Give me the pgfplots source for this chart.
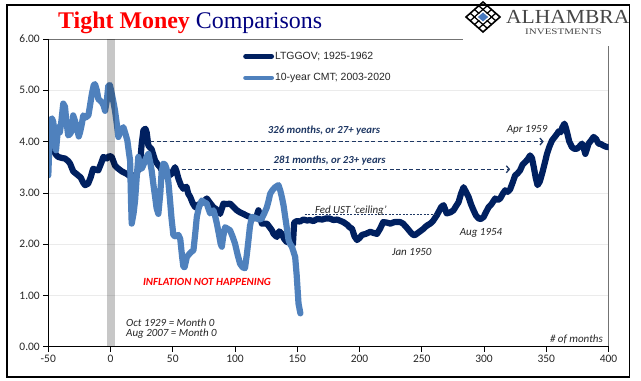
\documentclass[border=0pt]{standalone}
\usepackage{fontspec}
\setmainfont{Carlito}
\newfontfamily\arialfont{Liberation Sans}
\newfontfamily\timesfont{Liberation Serif}
\usepackage{pgfplots}
\pgfplotsset{compat=1.18}
\usetikzlibrary{arrows.meta}
\definecolor{darkser}{RGB}{0,32,96}
\definecolor{lightser}{RGB}{79,129,189}
\definecolor{titlenavy}{RGB}{0,0,128}
\definecolor{logogray}{RGB}{70,70,70}
\definecolor{logoblue}{RGB}{70,120,190}
\definecolor{annot}{RGB}{31,56,100}

\begin{document}
\begin{tikzpicture}
\useasboundingbox (0bp,0bp) rectangle (641bp,381bp);
\fill[white] (0bp,0bp) rectangle (641bp,381bp);
\begin{axis}[
  name=ax,
  at={(48.3bp,34.3bp)}, anchor=south west, scale only axis,
  width=560.2bp, height=307.7bp,
  xmin=-50, xmax=400, ymin=0, ymax=6,
  xtick={-50,0,50,100,150,200,250,300,350,400},
  ytick={0,1,2,3,4,5,6},
  tick pos=left, tick align=outside, major tick length=5bp,
  tick style={black, line width=0.6bp},
  axis line style={draw=black!55, line width=0.8bp},
  ymajorgrids, major grid style={draw=black!8, line width=0.6bp},
  yticklabel style={/pgf/number format/.cd, fixed, fixed zerofill, precision=2},
  /pgf/number format/assume math mode=true,
  ticklabel style={font=\fontsize{11.5}{13}\selectfont, text=black!85},
  legend style={at={(0.3476,0.9643)}, anchor=north west, draw=none, fill=none,
    inner sep=0pt, row sep=9bp, font=\arialfont\fontsize{10.5}{12}\selectfont,
    text=black!85,
    nodes={inner sep=1bp, text height=8bp, text depth=2.5bp}},
  legend cell align=left,
  legend image code/.code={\draw[line width=4.8bp, line cap=round] (0bp,0bp) -- (26bp,0bp);},
]
\addplot[darkser, line width=6.2bp, line join=round, line cap=round] coordinates {
(-46,3.84) (-44,3.75) (-42,3.70) (-39,3.68) (-36.6,3.67) (-34,3.62) (-32.5,3.57)
(-30,3.42) (-28,3.38) (-26,3.34) (-24,3.30) (-22,3.20) (-20.5,3.15) (-18,3.18)
(-16,3.30) (-14,3.47) (-12,3.45) (-9.8,3.44) (-7.5,3.58) (-5.8,3.70) (-3,3.67)
(-1,3.72) (1,3.70) (3.6,3.53) (6.3,3.47) (9,3.42) (13,3.37) (17,3.30) (21,3.37)
(23.7,3.57) (25,3.95) (26.4,4.22) (28,4.25) (29,4.18) (30.4,3.92) (33,3.85)
(35.8,3.63) (38,3.55) (39.8,3.50) (42,3.40) (43.8,3.34) (46,3.32) (49,3.37)
(51.8,3.50) (53,3.42) (54.5,3.28) (56.5,3.15) (58.5,3.08) (61,3.12) (62.5,2.98)
(64,2.92) (66,2.80) (68,2.72) (70,2.76) (72,2.79) (74.5,2.82) (77.3,2.89)
(80,2.80) (82.6,2.72) (85,2.68) (88,2.59) (90.7,2.79) (93,2.78) (96,2.79)
(99,2.72) (101.4,2.66) (104,2.62) (106.7,2.59) (109,2.56) (112,2.53) (115,2.50)
(117,2.52) (118.8,2.66) (120,2.55) (121.5,2.40) (125.6,2.40) (127.5,2.34)
(129.6,2.27) (131,2.20) (133.6,2.14) (135.5,2.25) (137.6,2.20) (139.5,2.10)
(141.6,2.04) (143.5,2.10) (145,2.05) (146.5,2.00) (147.5,2.42) (149.7,2.45)
(152,2.44) (155,2.48) (158,2.46) (160,2.47) (163,2.45) (166,2.49) (170,2.48)
(173,2.50) (176,2.50) (179,2.47) (182,2.48) (185,2.45) (187,2.43) (190,2.38)
(192,2.33) (194,2.30) (196,2.15) (198,2.08) (200,2.12) (202,2.18) (205,2.20)
(208.6,2.24) (211,2.22) (214,2.20) (216.5,2.30) (219,2.43) (222,2.42)
(224.7,2.40) (228,2.43) (232.7,2.43) (235,2.40) (238,2.32) (240.7,2.24)
(243,2.18) (244.8,2.18) (247,2.22) (251.4,2.30) (254,2.36) (256.8,2.40)
(259,2.45) (262,2.56) (264,2.65) (265.5,2.72) (267.5,2.76) (270,2.60)
(273,2.62) (275.5,2.66) (277.5,2.74) (279.6,2.82) (281.5,2.98) (283.6,3.11)
(285.5,3.02) (287.6,2.92) (289.5,2.78) (291.6,2.66) (293.5,2.56) (295.7,2.50)
(297.5,2.49) (299.7,2.53) (301.5,2.62) (303.7,2.72) (306,2.78) (309,2.89)
(311,2.86) (313,2.89) (315,2.98) (317,3.05) (319,3.02) (321,3.07) (323,3.20)
(325,3.34) (327,3.38) (329,3.44) (331,3.55) (333,3.60) (335,3.65) (337,3.73)
(338.5,3.68) (340,3.50) (341.5,3.30) (343,3.15) (344.8,3.22) (346.6,3.37)
(348.5,3.55) (350.6,3.76) (352.5,3.90) (354.6,4.02) (356.5,4.08) (358.7,4.15)
(360,4.20) (361.5,4.18) (363,4.28) (364.6,4.35) (366,4.25) (367,4.15)
(368.5,4.00) (370.7,3.89) (372.5,3.86) (374.7,3.86) (376.5,3.90) (378.7,3.96)
(380,3.88) (381.4,3.76) (383,3.88) (384,3.96) (386,4.02) (388,4.09) (390,4.05)
(392,3.96) (394,3.95) (396,3.92) (398,3.90) (400,3.89)
};
\addlegendentry{LTGGOV; 1925-1962}
\addplot[lightser, line width=6.2bp, line join=round, line cap=round] coordinates {
(-50,3.34) (-49.2,3.9) (-48.6,4.41) (-47,4.45) (-46,4.38) (-44.8,4.1) (-43.8,3.83)
(-43,4.05) (-42,4.28) (-40.7,4.18) (-39.5,4.4) (-38,4.74) (-36.6,4.68)
(-35.5,4.4) (-34,4.12) (-32.5,4.15) (-31,4.22) (-30,4.51) (-28.5,4.4) (-27,4.25)
(-25.5,4.10) (-24.5,4.18) (-23,4.35) (-21.9,4.51) (-20,4.47) (-17.8,4.51)
(-16.5,4.7) (-15,4.93) (-13.5,5.10) (-12.5,5.12) (-11,5.0) (-9.8,4.83)
(-8.5,4.8) (-7.1,4.77) (-5.5,4.70) (-4.4,4.60) (-3,4.8) (-1.8,5.09) (-0.5,5.10)
(1,4.93) (2.5,4.75) (3.6,4.6) (5,4.35) (6.3,4.09) (8,4.2) (10.3,4.28) (12,4.15)
(13.5,4.02) (14.7,3.8) (15.7,3.63) (16.5,2.8) (17,2.40) (18.5,2.6) (19.7,2.85)
(21,3.3) (22.3,3.70) (23.5,3.55) (25,3.47) (26.5,3.55) (27.7,3.63) (29,3.70)
(30.4,3.76) (31.8,3.6) (33,3.44) (34.5,3.15) (35.8,2.92) (37,2.7) (38.4,2.59)
(40,3.0) (41,3.4) (42.4,3.57) (43.8,3.55) (45,3.47) (46.5,3.2) (47.8,2.85)
(49,2.5) (50.5,2.17) (52.5,2.15) (54.5,2.18) (56,2.1) (57.5,1.75) (58.5,1.56)
(59.5,1.55) (61.3,1.75) (63,1.80) (65,1.85) (66.6,1.88) (68,2.2) (69.3,2.53)
(71,2.72) (73.3,2.85) (75,2.82) (77.3,2.79) (78.5,2.7) (80,2.60) (82.6,2.66)
(84,2.55) (85.4,2.40) (87,2.2) (88.5,2.0) (89.4,1.95) (90.5,2.15) (92,2.33)
(94,2.30) (96,2.27) (98,2.15) (100,2.01) (102,1.80) (104,1.62) (106,1.55)
(108,1.53) (109.5,1.80) (110.8,2.08) (112,2.35) (113.5,2.53) (115.5,2.52)
(117.5,2.50) (119.5,2.48) (121.5,2.50) (123.5,2.60) (125.6,2.72) (127,2.85)
(128.2,2.98) (130,3.05) (132.2,3.11) (134.9,3.15) (136.3,3.05) (137.6,2.92)
(139,2.75) (140.3,2.53) (141.7,2.30) (143,2.08) (144.3,2.0) (145.7,1.95)
(147,1.85) (148.3,1.75) (149.5,1.40) (151,0.84) (152.5,0.65)
};
\addlegendentry{10-year CMT; 2003-2020}
\addplot[draw=none, fill=black, fill opacity=0.22, forget plot] coordinates {(-2.8,6) (3.6,6)} \closedcycle;
% annotations
\draw[annot, line width=1.3bp, dash pattern=on 4bp off 2.5bp, -{Straight Barb[length=3bp,width=7bp]}] (axis cs:32,4.0) -- (axis cs:348,4.0);
\draw[annot, line width=1.3bp, dash pattern=on 4bp off 2.5bp, -{Straight Barb[length=3bp,width=7bp]}] (axis cs:57,3.46) -- (axis cs:321,3.46);
\draw[annot, line width=0.5bp, dash pattern=on 2bp off 1.5bp] (axis cs:156,2.58) -- (axis cs:262,2.58);
\node[annot, font=\fontsize{10.8}{12}\selectfont\bfseries\itshape] at (axis cs:171.5,4.22) {326 months, or 27+ years};
\node[annot, font=\fontsize{10.8}{12}\selectfont\bfseries\itshape] at (axis cs:176,3.63) {281 months, or 23+ years};
\node[black!85, font=\fontsize{11}{13}\selectfont\itshape] at (axis cs:334.6,4.22) {Apr 1959};
\node[black!85, font=\fontsize{11}{13}\selectfont\itshape] at (axis cs:193,2.65) {Fed UST `ceiling'};
\node[black!85, font=\fontsize{11}{13}\selectfont\itshape] at (axis cs:242,1.85) {Jan 1950};
\node[black!85, font=\fontsize{11}{13}\selectfont\itshape] at (axis cs:297.6,2.21) {Aug 1954};
\node[red, font=\fontsize{11}{13}\selectfont\bfseries\itshape] at (axis cs:77.5,1.26) {INFLATION NOT HAPPENING};
\node[black!85, anchor=west, inner sep=0pt, font=\fontsize{11}{13}\selectfont\itshape] at (axis cs:12.4,0.475) {Oct 1929 = Month 0};
\node[black!85, anchor=west, inner sep=0pt, font=\fontsize{11}{13}\selectfont\itshape] at (axis cs:12.4,0.247) {Aug 2007 = Month 0};
\node[black!85, anchor=east, inner sep=0pt, font=\fontsize{11}{13}\selectfont\itshape] at (axis cs:395.6,0.15) {\# of months};
\end{axis}
\draw[black, line width=0.9bp] (ax.north west) -- (ax.south west) -- (ax.south east);
% logo area
\fill[white] (463bp,335bp) rectangle (628bp,375.4bp);
\begin{scope}[shift={(483bp,364bp)}, x={(17bp,0bp)}, y={(0bp,15bp)}]
  \draw[line width=1.6bp, black, line join=miter] (-1,0) -- (0,1) -- (1,0) -- (0,-1) -- cycle;
  \foreach \c in {-0.5,0,0.5} {
    \draw[line width=1.3bp, black] ({(\c-1)/2},{(\c+1)/2}) -- ({(\c+1)/2},{(\c-1)/2});
    \draw[line width=1.3bp, black] ({(\c-1)/2},{(-1-\c)/2}) -- ({(1+\c)/2},{(1-\c)/2});
  }
  \fill[white] (-0.42,0) -- (0,0.42) -- (0.42,0) -- (0,-0.42) -- cycle;
  \fill[logoblue] (-0.3,0) -- (0,0.3) -- (0.3,0) -- (0,-0.3) -- cycle;
\end{scope}
\node[anchor=base west, inner sep=0pt, text depth=0pt, text=logogray] at (506bp,357bp) {\scalebox{1.08}[1]{\timesfont\fontsize{20}{22}\selectfont ALHAMBRA}};
\node[anchor=base west, inner sep=0pt, text depth=0pt, text=logogray] at (525bp,346.5bp) {\scalebox{1.3}[1]{\timesfont\fontsize{8.5}{10}\selectfont INVESTMENTS}};
% title
\node[anchor=base west, inner sep=0pt] at (58bp,352bp) {\timesfont\fontsize{24}{26}\selectfont\textcolor{red}{\bfseries Tight Money} \textcolor{titlenavy}{Comparisons}};
% frame
\draw[black, line width=1.2bp] (7bp,4bp) rectangle (629.5bp,376bp);
\end{tikzpicture}
\end{document}
